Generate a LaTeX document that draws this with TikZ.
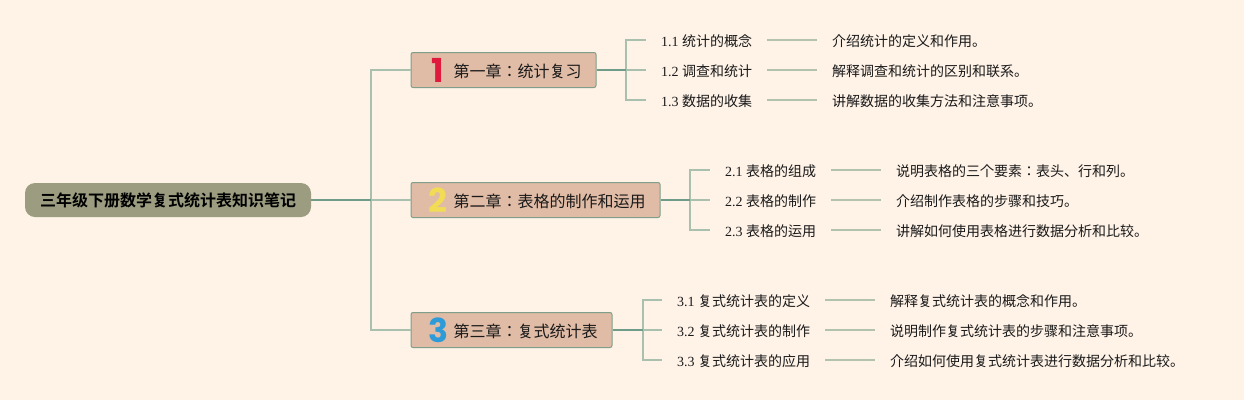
\documentclass[tikz,border=0pt]{standalone}
\usepackage{fontspec}
\setmainfont{Liberation Serif}
\newfontfamily\cjk{Noto Sans CJK JP}
\newfontfamily\cjkb{Noto Sans CJK JP Bold}
\newfontfamily\iconf{Poppins Bold}
\definecolor{bgc}{HTML}{FFF3E8}
\definecolor{rootc}{HTML}{9C9C80}
\definecolor{topicc}{HTML}{E0BBA5}
\definecolor{edgec}{HTML}{7F9F8A}
\definecolor{darkl}{HTML}{6F9C88}
\definecolor{lightl}{HTML}{A9C0AE}
\definecolor{leafl}{HTML}{B2C2AC}
\definecolor{txt}{HTML}{1A1A1A}
\definecolor{ione}{HTML}{DF1A3C}
\definecolor{itwo}{HTML}{F3DC55}
\definecolor{ithree}{HTML}{2E9BD9}
\tikzset{
 rootbox/.style={draw=none,fill=rootc,rounded corners=10pt,minimum width=286pt,minimum height=34pt,inner sep=0pt,font=\cjkb\fontsize{16}{16}\selectfont,text=black},
 topicbox/.style={draw=edgec,line width=1pt,fill=topicc,rounded corners=2pt,minimum height=35pt,inner sep=0pt},
 topictext/.style={anchor=west,inner sep=0pt,font=\cjk\fontsize{16}{16}\selectfont,text=txt},
 iconnum/.style={anchor=center,inner sep=0pt,font=\iconf\fontsize{33}{33}\selectfont},
 leafbox/.style={anchor=west,inner xsep=15pt,inner ysep=0pt,text height=13.6pt,text depth=1pt,font=\fontsize{14}{14}\selectfont,text=txt},
 descbox/.style={anchor=west,inner xsep=15pt,inner ysep=0pt,text height=13.6pt,text depth=1pt,font=\cjk\fontsize{14}{14}\selectfont,text=txt},
 main/.style={darkl,line width=1.6pt},
 branch/.style={lightl,line width=1.5pt},
 leafline/.style={leafl,line width=1.5pt},
}
\newcommand{\lf}[2]{#1 {\cjk #2}}
\begin{document}
\begin{tikzpicture}[x=1pt,y=-1pt]
\useasboundingbox (0,0) rectangle (1244,400);
\fill[bgc] (0,0) rectangle (1244,400);
\coordinate (bus) at (371,200);
\coordinate (b1) at (626,70);
\coordinate (b2) at (690,200);
\coordinate (b3) at (643,330);
\node[rootbox] (root) at (168,200) {三年级下册数学复式统计表知识笔记};
\node[topicbox,minimum width=185pt] (t1) at (503.5,70) {};
\node[topicbox,minimum width=249pt] (t2) at (535.5,200) {};
\node[topicbox,minimum width=201pt] (t3) at (511.5,330) {};
\node[iconnum,text=ione] (i1) at (438,70) {1};
\node[iconnum,text=itwo] (i2) at (438,200) {2};
\node[iconnum,text=ithree] (i3) at (438,330) {3};
\node[topictext] (tt1) at (453.3,71) {第一章：统计复习};
\node[topictext] (tt2) at (453.3,201) {第二章：表格的制作和运用};
\node[topictext] (tt3) at (453.3,331) {第三章：复式统计表};
\node[leafbox] (l11) at (646,40) {\lf{1.1}{统计的概念}};
\node[leafbox] (l12) at (646,70) {\lf{1.2}{调查和统计}};
\node[leafbox] (l13) at (646,100) {\lf{1.3}{数据的收集}};
\node[leafbox] (l21) at (710,170) {\lf{2.1}{表格的组成}};
\node[leafbox] (l22) at (710,200) {\lf{2.2}{表格的制作}};
\node[leafbox] (l23) at (710,230) {\lf{2.3}{表格的运用}};
\node[leafbox] (l31) at (662,300) {\lf{3.1}{复式统计表的定义}};
\node[leafbox] (l32) at (662,330) {\lf{3.2}{复式统计表的制作}};
\node[leafbox] (l33) at (662,360) {\lf{3.3}{复式统计表的应用}};
\node[descbox] (d11) at (817,40) {介绍统计的定义和作用。};
\node[descbox] (d12) at (817,70) {解释调查和统计的区别和联系。};
\node[descbox] (d13) at (817,100) {讲解数据的收集方法和注意事项。};
\node[descbox] (d21) at (881,170) {说明表格的三个要素：表头、行和列。};
\node[descbox] (d22) at (881,200) {介绍制作表格的步骤和技巧。};
\node[descbox] (d23) at (881,230) {讲解如何使用表格进行数据分析和比较。};
\node[descbox] (d31) at (875,300) {解释复式统计表的概念和作用。};
\node[descbox] (d32) at (875,330) {说明制作复式统计表的步骤和注意事项。};
\node[descbox] (d33) at (875,360) {介绍如何使用复式统计表进行数据分析和比较。};
% root to chapters
\draw[branch] (bus) |- (t1.west);
\draw[branch] (bus) -- (t2.west);
\draw[branch] (bus) |- (t3.west);
\draw[main] (root.east) -- (bus);
% chapter to sections
\foreach \b/\a/\c/\d in {b1/l11/l12/l13,b2/l21/l22/l23,b3/l31/l32/l33}{
 \draw[branch] (\b) |- (\a.west);
 \draw[branch] (\b) -- (\c.west);
 \draw[branch] (\b) |- (\d.west);
}
\draw[main] (t1.east) -- (b1);
\draw[main] (t2.east) -- (b2);
\draw[main] (t3.east) -- (b3);
% section to description
\foreach \a/\c in {l11/d11,l12/d12,l13/d13,l21/d21,l22/d22,l23/d23,l31/d31,l32/d32,l33/d33}{
 \draw[leafline] (\a.east) -- (\c.west);
}
\end{tikzpicture}
\end{document}
